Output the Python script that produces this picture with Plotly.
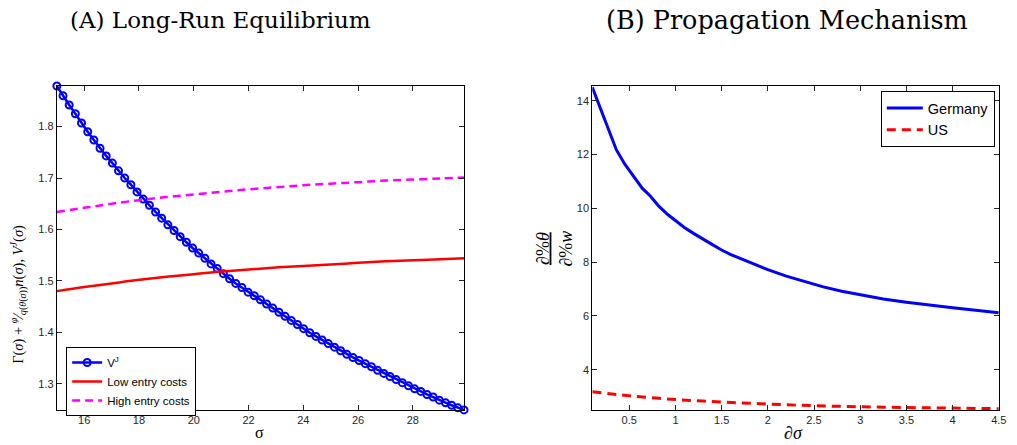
import plotly.graph_objects as go

# ---- Panel A: long-run equilibrium ----
sigma_grid = [
    15.000, 15.225, 15.451, 15.676, 15.901, 16.127, 16.352, 16.577, 16.802, 17.028,
    17.253, 17.478, 17.704, 17.929, 18.154, 18.380, 18.605, 18.830, 19.055, 19.281,
    19.506, 19.731, 19.957, 20.182, 20.407, 20.633, 20.858, 21.083, 21.308, 21.534,
    21.759, 21.984, 22.210, 22.435, 22.660, 22.886, 23.111, 23.336, 23.561, 23.787,
    24.012, 24.237, 24.463, 24.688, 24.913, 25.139, 25.364, 25.589, 25.814, 26.040,
    26.265, 26.490, 26.716, 26.941, 27.166, 27.392, 27.617, 27.842, 28.067, 28.293,
    28.518, 28.743, 28.969, 29.194, 29.419, 29.645, 29.870,
]
v_j = [
    1.879, 1.860, 1.842, 1.825, 1.807, 1.790, 1.774, 1.758, 1.743, 1.729,
    1.714, 1.700, 1.687, 1.673, 1.659, 1.647, 1.634, 1.622, 1.609, 1.598,
    1.586, 1.575, 1.564, 1.554, 1.544, 1.533, 1.524, 1.514, 1.504, 1.495,
    1.487, 1.478, 1.471, 1.463, 1.455, 1.447, 1.439, 1.431, 1.423, 1.415,
    1.407, 1.399, 1.392, 1.385, 1.378, 1.371, 1.364, 1.357, 1.351, 1.345,
    1.339, 1.333, 1.326, 1.320, 1.314, 1.308, 1.302, 1.296, 1.290, 1.285,
    1.279, 1.274, 1.268, 1.263, 1.258, 1.253, 1.249,
]

sigma_cost = [15, 16, 17, 18, 19, 20, 21, 22, 23, 24, 25, 26, 27, 28, 29, 29.87]
low_entry = [1.480, 1.488, 1.495, 1.502, 1.508, 1.513, 1.518, 1.522,
             1.526, 1.529, 1.532, 1.535, 1.538, 1.540, 1.542, 1.544]
high_entry = [1.634, 1.642, 1.650, 1.657, 1.663, 1.668, 1.673, 1.678,
              1.682, 1.686, 1.689, 1.692, 1.695, 1.697, 1.699, 1.701]

# ---- Panel B: propagation mechanism ----
d_sigma_de = [0.1, 0.36, 0.45, 0.55, 0.64, 0.73, 0.82, 0.92, 1.0, 1.1, 1.2, 1.3,
              1.4, 1.5, 1.6, 1.8, 2.0, 2.2, 2.4, 2.6, 2.8, 3.0, 3.25, 3.5,
              3.75, 4.0, 4.25, 4.5]
germany = [14.50, 12.18, 11.65, 11.17, 10.75, 10.45, 10.08, 9.76, 9.55, 9.28,
           9.06, 8.84, 8.65, 8.45, 8.28, 8.00, 7.72, 7.48, 7.28, 7.08, 6.92,
           6.78, 6.63, 6.51, 6.40, 6.30, 6.21, 6.12]
d_sigma_us = [0.1, 0.5, 1.0, 1.5, 2.0, 2.5, 3.0, 3.5, 4.0, 4.5]
us = [3.18, 3.03, 2.89, 2.80, 2.72, 2.66, 2.62, 2.59, 2.57, 2.55]

A_ticks = [16, 18, 20, 22, 24, 26, 28]
A_yticks = [1.3, 1.4, 1.5, 1.6, 1.7, 1.8]
B_ticks = [0.5, 1, 1.5, 2, 2.5, 3, 3.5, 4, 4.5]
B_tick_text = ["0.5", "1", "1.5", "2", "2.5", "3", "3.5", "4", "4.5"]
B_yticks = [4, 6, 8, 10, 12, 14]

W, H = 1017, 445
SANS = "Liberation Sans, Arial, sans-serif"
SERIF = "Liberation Serif, Times New Roman, serif"
TITLE_SERIF = "DejaVu Serif, serif"
TICK_COLOR = "#262626"

fig = go.Figure()

fig.add_trace(go.Scatter(
    x=sigma_grid, y=v_j, mode="lines+markers", name="V<sup>J</sup>",
    line=dict(color="#0000ff", width=2.5),
    marker=dict(symbol="circle-open", size=7, color="#0000ff", line=dict(width=2)),
    cliponaxis=False, xaxis="x", yaxis="y", legend="legend",
))
fig.add_trace(go.Scatter(
    x=sigma_cost, y=low_entry, mode="lines", name="Low entry costs",
    line=dict(color="#ff0000", width=2.5, shape="spline"),
    xaxis="x", yaxis="y", legend="legend",
))
fig.add_trace(go.Scatter(
    x=sigma_cost, y=high_entry, mode="lines", name="High entry costs",
    line=dict(color="#ff00ff", width=2.5, dash="8px,5px", shape="spline"),
    xaxis="x", yaxis="y", legend="legend",
))
fig.add_trace(go.Scatter(
    x=d_sigma_de, y=germany, mode="lines", name="Germany",
    line=dict(color="#0000ff", width=3),
    xaxis="x2", yaxis="y2", legend="legend2",
))
fig.add_trace(go.Scatter(
    x=d_sigma_us, y=us, mode="lines", name="US",
    line=dict(color="#ff0000", width=3, dash="9px,6px", shape="spline"),
    cliponaxis=False, xaxis="x2", yaxis="y2", legend="legend2",
))

axis_style = dict(
    showline=True, linecolor="black", linewidth=1, mirror="ticks",
    ticks="inside", ticklen=5, tickwidth=1, tickcolor=TICK_COLOR,
    showgrid=False, zeroline=False,
    tickfont=dict(family=SANS, size=11, color=TICK_COLOR),
)

dom_y = [35 / H, 359 / H]

fig.update_layout(
    width=W, height=H, margin=dict(l=0, r=0, t=0, b=0),
    paper_bgcolor="white", plot_bgcolor="white",
    xaxis=dict(domain=[57.3 / W, 467.7 / W], range=[15, 29.87],
               tickvals=A_ticks, anchor="y", **axis_style),
    yaxis=dict(domain=dom_y, range=[1.2488, 1.879], tickvals=A_yticks,
               tickformat=".1f", anchor="x", **axis_style),
    xaxis2=dict(domain=[597 / W, 1006.7 / W], range=[0.1, 4.5],
                tickvals=B_ticks, ticktext=B_tick_text, anchor="y2", **axis_style),
    yaxis2=dict(domain=dom_y, range=[2.5, 14.55], tickvals=B_yticks,
                anchor="x2", **axis_style),
    legend=dict(x=66.7 / W, y=(H - 347) / H, xanchor="left", yanchor="top",
                bgcolor="white", bordercolor="black", borderwidth=1,
                font=dict(family=SANS, size=11.5, color="black"),
                tracegroupgap=0, itemwidth=30),
    legend2=dict(x=1002.7 / W, y=(H - 91) / H, xanchor="right", yanchor="top",
                 bgcolor="white", bordercolor="black", borderwidth=1,
                 font=dict(family=SANS, size=14.5, color="black"),
                 tracegroupgap=0, itemwidth=36),
)

annotations = [
    dict(text="(A) Long-Run Equilibrium", x=222 / W, y=(H - 20) / H,
         font=dict(family=TITLE_SERIF, size=23, color="black")),
    dict(text="(B) Propagation Mechanism", x=793 / W, y=(H - 20) / H,
         font=dict(family=TITLE_SERIF, size=25.5, color="black")),
    dict(text="σ", x=262 / W, y=(H - 432) / H,
         font=dict(family=SERIF, size=16, color="black")),
    dict(text="<i>∂σ</i>", x=800 / W, y=(H - 433) / H,
         font=dict(family=SERIF, size=18, color="black")),
    dict(text="Γ(<i>σ</i>) + <sup><i>φ</i></sup>⁄<sub><i>q</i>(<i>θ</i>(<i>σ</i>))</sub>"
              "<i>n</i>(<i>σ</i>), <i>V<sup>J</sup></i>(<i>σ</i>)",
         x=18 / W, y=(H - 294) / H, textangle=-90,
         font=dict(family=SERIF, size=14.5, color="black")),
    dict(text="<u><i>∂</i>%<i>θ</i></u><br><i>∂</i>%<i>w</i>", x=559 / W, y=(H - 249) / H,
         textangle=-90,
         font=dict(family=SERIF, size=18, color="black")),
]
for a in annotations:
    a.update(xref="paper", yref="paper", showarrow=False, xanchor="center", yanchor="middle")
fig.update_layout(annotations=annotations)

fig.write_html("out.html")
